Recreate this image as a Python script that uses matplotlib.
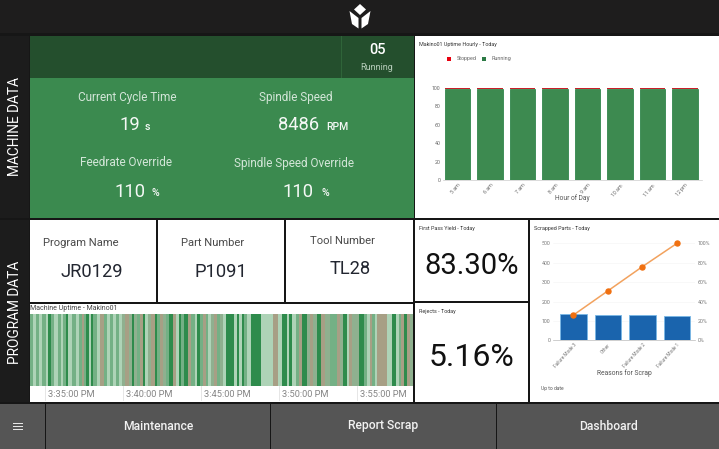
import matplotlib
matplotlib.use("Agg")
import matplotlib.pyplot as plt
from matplotlib.patches import Rectangle, Polygon
from matplotlib.ticker import FuncFormatter

plt.rcParams['font.family'] = ['Roboto', 'DejaVu Sans']

# ---- data ----
hours = ['5 am', '6 am', '7 am', '8 am', '9 am', '10 am', '11 am', '12 pm']
running = [98.5, 98.5, 98.5, 98.5, 98.8, 98.8, 98.8, 98.8]
stopped = [1.5, 1.5, 1.5, 1.5, 1.2, 1.2, 1.2, 1.2]
reasons = ['Failure Mode 3', 'Other', 'Failure Mode 2', 'Failure Mode 1']
scrap = [135, 132, 131, 125]
cumulative_pct = [26, 51, 76, 100]
# machine state stripes: seconds, shade key
stripe_seconds = [12, 12, 12, 12, 15, 8, 8, 15, 12, 12, 8, 12,
                  8, 15, 15, 12, 12, 8, 8, 12, 8, 8, 12, 15, 12, 12, 12, 12, 12, 12, 12, 12,
                  12, 12, 8, 12, 12, 12, 8, 12, 12, 12, 8, 12, 12, 12, 12, 15, 12, 12, 8, 12, 15, 12,
                  12, 8, 12, 12, 12, 8, 12, 12, 12, 8, 12, 12,
                  31, 12, 8, 12, 8, 12, 15, 38, 46, 19, 15, 19, 8, 12, 15, 12, 12, 19, 12, 12, 12, 19,
                  12, 19, 27, 12, 12, 15, 8, 12, 27, 19, 12, 12, 8, 12, 8, 15, 23, 8, 12,
                  12, 12, 8, 12, 12, 12, 12, 12, 12, 12, 4]
stripe_states = ['m', 'l', 'm', 'l', 'm', 'l', 'd', 'm', 'l', 'm', 'l', 'm',
                 'd', 'l', 'm', 'l', 'm', 't', 'm', 'd', 'l', 'd', 'm', 'l', 't', 'm', 'l', 'm', 'l', 'm', 'l', 'x',
                 't', 'x', 'd', 'x', 'm', 't', 'd', 'l', 'x', 't', 'd', 'm', 't', 'x', 'm', 'd', 't', 'l', 'd', 'm', 'd', 't',
                 'm', 'l', 'd', 'm', 't', 'm', 'l', 'x', 't', 'm', 'x', 'l',
                 'd', 'l', 'd', 'l', 'd', 'm', 'l', 'd', 'l', 't', 'l', 'd', 'l', 'd', 'l', 'm', 't', 'd', 'x', 't', 'x', 'd',
                 't', 'x', 'm', 't', 'x', 'd', 'l', 't', 'x', 'd', 'm', 'l', 't', 'm', 'l', 't', 't', 'l', 'l',
                 'd', 'l', 'm', 't', 'd', 't', 'x', 't', 'd', 'x', 'l']
shade = {'d': '#2e8b4c', 'm': '#74b085', 'l': '#aed3b7', 't': '#a79f85', 'x': '#8fb08f'}
time_ticks = ['3:35:00 PM', '3:40:00 PM', '3:45:00 PM', '3:50:00 PM', '3:55:00 PM']
tick_seconds = [0, 300, 600, 900, 1200]

W, H = 719, 449
fig = plt.figure(figsize=(W / 100, H / 100), dpi=100, facecolor='#161616')
bg = fig.add_axes([0, 0, 1, 1])
bg.set_xlim(0, W); bg.set_ylim(H, 0); bg.axis('off')


def box(x0, y0, x1, y1, c, **kw):
    bg.add_patch(Rectangle((x0, y0), x1 - x0, y1 - y0, fc=c, ec='none', **kw))


def txt(x, y, s, size, c='black', ha='center', va='center', **kw):
    bg.text(x, y, s, fontsize=size, color=c, ha=ha, va=va, **kw)


def sub(x0, y0, x1, y1):
    return fig.add_axes([x0 / W, 1 - y1 / H, (x1 - x0) / W, (y1 - y0) / H], facecolor='none')


# header
box(0, 0, W, 33, '#1e1d1d')
for pts in ([(360, 4), (366, 9.5), (360, 15), (354, 9.5)],
            [(349.5, 11), (358.5, 18), (358.5, 28.5), (352, 24)],
            [(370.5, 11), (361.5, 18), (361.5, 28.5), (368, 24)]):
    bg.add_patch(Polygon(pts, fc='white', ec='none'))

# left rail
box(0, 36, 29, 218, '#1c1c1c'); box(0, 220, 29, 402, '#1c1c1c')
txt(15, 127, 'MACHINE DATA', 9.9, 'white', rotation=90)
txt(15, 312, 'PROGRAM DATA', 9.9, 'white', rotation=90)

# machine panel
box(30, 36, 414, 78, '#244f2d')
box(341, 36, 342, 78, '#2f6439')
box(30, 78, 414, 218, '#3b8a4f')
txt(377, 50, '05', 10.5, 'white', fontweight='medium')
txt(377, 67, 'Running', 6.5, '#b7cdbb')
for x, y, s in [(127, 97, 'Current Cycle Time'), (296, 97, 'Spindle Speed'),
                (126, 163, 'Feedrate Override'), (294, 163, 'Spindle Speed Override')]:
    txt(x, y, s, 8.5, '#d3e6d8')
for xa, xb, y, a, b in [(140, 145, 125, '19', 's'), (319, 326, 125, '8486', 'RPM'),
                        (145, 151, 192, '110', '%'), (313, 322, 192, '110', '%')]:
    txt(xa, y, a, 13.2, '#f4f8f5', ha='right')
    txt(xb, y + 1.5, b, 7.6, '#f4f8f5', ha='left', fontweight='medium')

# program cells
for x0, x1, a, b, tx, ty, vx, vy in [(30, 156, 'Program Name', 'JR0129', 81, 243, 92, 272),
                                     (158, 284, 'Part Number', 'P1091', 213, 243, 221, 272),
                                     (286, 413, 'Tool Number', 'TL28', 342, 241, 350, 269)]:
    box(x0, 220, x1, 302, 'white')
    txt(tx, ty, a, 8.1, '#4a4a4a')
    txt(vx, vy, b, 13.2, '#222630')

# uptime panel
box(30, 304, 413, 402, 'white')
txt(30, 308, 'Machine Uptime - Makino01', 5, '#444444', ha='left')
ax_u = sub(30, 314, 413, 386)
left = -58
for w, st in zip(stripe_seconds, stripe_states):
    ax_u.barh(0, w, left=left, height=1, color=shade[st], linewidth=0)
    left += w
ax_u.set_xlim(-58, 1415)
ax_u.set_ylim(-0.5, 0.5)
ax_u.axis('off')
ax_t = sub(30, 386, 413, 402)
ax_t.set_xlim(-58, 1415); ax_t.set_ylim(0, 1); ax_t.axis('off')
for sec, lab in zip(tick_seconds, time_ticks):
    ax_t.plot([sec, sec], [0.15, 1], color='#e2e2e2', lw=0.6)
    ax_t.text(sec + 10, 0.47, lab, fontsize=6.7, color='#858585', ha='left', va='center')

# hourly chart
box(415, 36, 719, 218, 'white')
txt(419, 44.5, 'Makino01 Uptime Hourly - Today', 3.9, '#333333', ha='left')
box(446.7, 56.5, 451, 61, '#e8000f'); txt(456.5, 58.7, 'Stopped', 3.9, '#666666', ha='left')
box(482, 56.5, 486.3, 61, '#2c7a45'); txt(492, 58.7, 'Running', 3.9, '#666666', ha='left')
ax1 = sub(443, 87.7, 702, 180)
xs = range(len(hours))
ax1.bar(xs, running, width=0.78, color='#3d8a50', edgecolor='#1d7a3a', linewidth=0.5)
ax1.bar(xs, stopped, bottom=running, width=0.78, color='#c9202a', linewidth=0)
ax1.set_xlim(-0.45, 7.52); ax1.set_ylim(0, 100)
ax1.set_yticks([0, 20, 40, 60, 80, 100])
ax1.set_xticks(list(xs), hours, rotation=50, ha='right', rotation_mode='anchor')
ax1.tick_params(labelsize=3.8, length=0, labelcolor='#666666', pad=2)
ax1.set_xlabel('Hour of Day', fontsize=4.8, color='#555555', labelpad=-2.5)
for s in ('top', 'right', 'left'):
    ax1.spines[s].set_visible(False)
ax1.spines['bottom'].set_color('#cccccc'); ax1.spines['bottom'].set_linewidth(0.5)

# KPI panels
box(415, 220, 528, 301, 'white')
box(415, 303, 528, 402, 'white')
txt(419, 228.5, 'First Pass Yield - Today', 3.9, '#333333', ha='left')
txt(419, 311.5, 'Rejects - Today', 3.9, '#333333', ha='left')
txt(471.5, 266, '83.30%', 21, '#111111')
txt(472, 358, '5.16%', 23, '#111111')

# pareto chart
box(530, 220, 719, 402, 'white')
txt(534, 228.5, 'Scrapped Parts - Today', 3.9, '#333333', ha='left')
ax2 = sub(553, 243.3, 695, 340.3)
xp = range(len(reasons))
ax2.bar(xp, scrap, width=0.77, color='#1a64ad', edgecolor='#78b8e6', linewidth=0.6)
ax2.set_xlim(-0.59, 3.52); ax2.set_ylim(0, 500)
ax2.set_yticks(range(0, 501, 100))
ax2.set_xticks(list(xp), reasons, rotation=48, ha='right', rotation_mode='anchor')
ax2.tick_params(axis='x', labelsize=3.4, length=0, labelcolor='#777777', pad=1.5)
ax2.tick_params(axis='y', labelsize=3.8, length=0, labelcolor='#777777', pad=2)
ax2.grid(axis='y', color='#f4f4f4', lw=0.4); ax2.set_axisbelow(True)
ax2.set_xlabel('Reasons for Scrap', fontsize=4.9, color='#555555', labelpad=0.3)
for s in ('top', 'right', 'left'):
    ax2.spines[s].set_visible(False)
ax2.spines['bottom'].set_color('#bbbbbb'); ax2.spines['bottom'].set_linewidth(0.5)
ax3 = ax2.twinx()
ax3.plot(list(xp), cumulative_pct, color='#f2a25e', lw=1.1, marker='o', ms=3.6,
         mfc='#f07010', mec='#f07010', clip_on=False)
ax3.set_ylim(0, 100)
ax3.set_yticks(range(0, 101, 20))
ax3.yaxis.set_major_formatter(FuncFormatter(lambda v, _: f'{v:.0f}%'))
ax3.tick_params(labelsize=3.8, length=0, labelcolor='#777777', pad=2)
for s in ax3.spines.values():
    s.set_visible(False)
txt(541, 388.5, 'Up to date', 3.5, '#555555', ha='left')

# footer
for x0, x1, s in [(0, 45, None), (46, 270, 'Maintenance'), (271, 496, 'Report Scrap'), (497, 719, 'Dashboard')]:
    box(x0, 404, x1, H, '#555555')
    if s:
        txt((x0 + x1) / 2, 426, s, 8.7, '#f2f2f2', fontweight='medium')
for y in (422.5, 425.5, 428.5):
    box(13, y, 23, y + 1, '#e6e6e6')

fig.savefig('out.png', dpi=100, facecolor=fig.get_facecolor())
